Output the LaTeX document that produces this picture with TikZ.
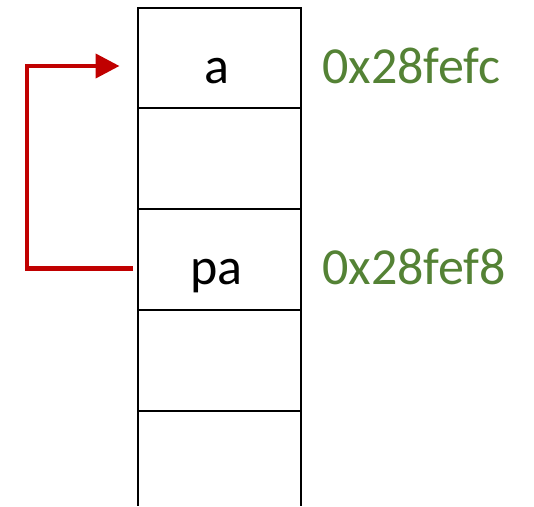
\documentclass[tikz,border=0pt]{standalone}
\usepackage{fontspec}
\setmainfont{Carlito}
\usetikzlibrary{arrows.meta,calc}
\definecolor{addrgreen}{HTML}{548235}
\definecolor{ptrred}{HTML}{C00000}
\begin{document}
\begin{tikzpicture}[x=1pt,y=-1pt,
  cell/.style={draw=black,line width=2pt,rectangle,minimum width=163.3pt,inner sep=0pt,outer sep=0pt},
  opencell/.style={rectangle,minimum width=163.3pt,inner sep=0pt,outer sep=0pt},
  varname/.style={anchor=base,font=\fontsize{52}{60}\selectfont,text=black,inner sep=0pt},
  addr/.style={anchor=base west,font=\fontsize{52}{60}\selectfont,text=addrgreen,inner sep=0pt},
  pointer/.style={draw=ptrred,line width=4.3pt,-{Triangle[length=24pt,width=24pt]}}
]
\useasboundingbox (0,0) rectangle (534,506);
\node[cell,minimum height=99.5pt] (c1) at (219.7,57.75) {};
\node[cell,minimum height=101.5pt] (c2) at (219.7,158.25) {};
\node[cell,minimum height=101pt] (c3) at (219.7,259.5) {};
\node[cell,minimum height=101pt] (c4) at (219.7,360.5) {};
\node[opencell,minimum height=95pt] (c5) at (219.7,458.5) {};
\draw[line width=2pt] (c5.north west) -- (c5.south west);
\draw[line width=2pt] (c5.north east) -- (c5.south east);
\node[varname] (ta) at (216.7,83.5) {a};
\node[varname] (tpa) at (216.3,284.5) {pa};
\node[addr] (addra) at (322,83.5) {0x28fefc};
\node[addr] (addrpa) at (322,284.5) {0x28fef8};
\coordinate (src) at (133,268.5);
\coordinate (dst) at (119.5,66);
\draw[pointer] (src) -- (27,268.5) |- (dst);
\end{tikzpicture}
\end{document}
